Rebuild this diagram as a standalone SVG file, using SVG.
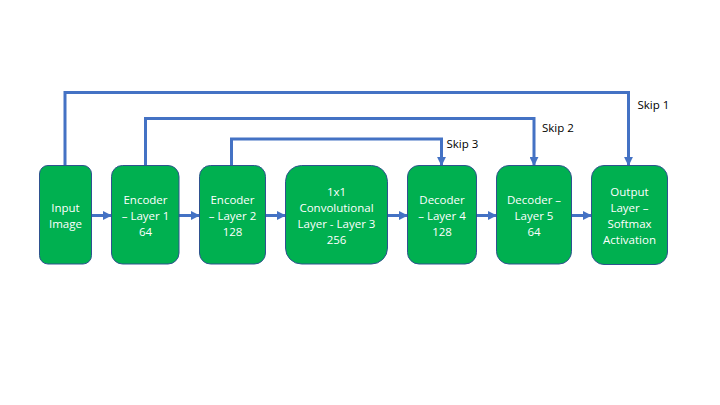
<svg xmlns="http://www.w3.org/2000/svg" width="720" height="405" viewBox="0 0 720 405">
<defs>
<marker id="arr" viewBox="0 0 10 10" refX="9" refY="5" markerWidth="3" markerHeight="3" orient="auto" markerUnits="strokeWidth">
<path d="M0,0 L10,5 L0,10 Z" fill="#4472C4"/>
</marker>
<style>
.box{fill:#00B050;stroke:#2F528F;stroke-width:1}
.t{font-family:"Open Sans","Liberation Sans",sans-serif;font-size:11.5px;fill:#FFFFFF;text-anchor:middle}
.c{fill:none;stroke:#4472C4;stroke-width:3;marker-end:url(#arr)}
.l{font-family:"Open Sans","Liberation Sans",sans-serif;font-size:11.5px;fill:#000000}
</style>
</defs>
<rect width="720" height="405" fill="#FFFFFF"/>
<g id="connectors">
<path class="c" d="M92,215.5 H111"/>
<path class="c" d="M179,215.5 H199"/>
<path class="c" d="M265.5,215.5 H285"/>
<path class="c" d="M388,215.5 H407"/>
<path class="c" d="M477,215.5 H496"/>
<path class="c" d="M572,215.5 H591"/>
<path class="c" d="M65,165 V92.5 H628.5 V165"/>
<path class="c" d="M145.5,165 V118.5 H534 V165"/>
<path class="c" d="M231.5,165 V139 H441.5 V165"/>
<text class="l" x="637.5" y="109">Skip 1</text>
<text class="l" x="542" y="131.5">Skip 2</text>
<text class="l" x="446.5" y="148">Skip 3</text>
</g>
<g id="input">
<rect class="box" x="39.5" y="165.5" width="52" height="98.5" rx="8.5"/>
<text class="t"><tspan x="65.5" y="212">Input</tspan><tspan x="65.5" y="228">Image</tspan></text>
</g>
<g id="enc1">
<rect class="box" x="111.5" y="165.5" width="67.5" height="98.5" rx="11"/>
<text class="t"><tspan x="145.5" y="204">Encoder</tspan><tspan x="145.5" y="220">– Layer 1</tspan><tspan x="145.5" y="236">64</tspan></text>
</g>
<g id="enc2">
<rect class="box" x="199.5" y="165.5" width="66" height="98.5" rx="11"/>
<text class="t"><tspan x="232.5" y="204">Encoder</tspan><tspan x="232.5" y="220">– Layer 2</tspan><tspan x="232.5" y="236">128</tspan></text>
</g>
<g id="conv">
<rect class="box" x="285.5" y="165.5" width="102" height="98.5" rx="16"/>
<text class="t"><tspan x="336.5" y="196">1x1</tspan><tspan x="336.5" y="212">Convolutional</tspan><tspan x="336.5" y="228">Layer - Layer 3</tspan><tspan x="336.5" y="244">256</tspan></text>
</g>
<g id="dec4">
<rect class="box" x="407.5" y="165.5" width="69" height="98.5" rx="11.5"/>
<text class="t"><tspan x="442" y="204">Decoder</tspan><tspan x="442" y="220">– Layer 4</tspan><tspan x="442" y="236">128</tspan></text>
</g>
<g id="dec5">
<rect class="box" x="496.5" y="165.5" width="75" height="98.5" rx="12.5"/>
<text class="t"><tspan x="534" y="204">Decoder –</tspan><tspan x="534" y="220">Layer 5</tspan><tspan x="534" y="236">64</tspan></text>
</g>
<g id="output">
<rect class="box" x="591.5" y="165.5" width="76" height="99" rx="12.5"/>
<text class="t"><tspan x="629.5" y="196">Output</tspan><tspan x="629.5" y="212">Layer –</tspan><tspan x="629.5" y="228">Softmax</tspan><tspan x="629.5" y="244">Activation</tspan></text>
</g>
</svg>
